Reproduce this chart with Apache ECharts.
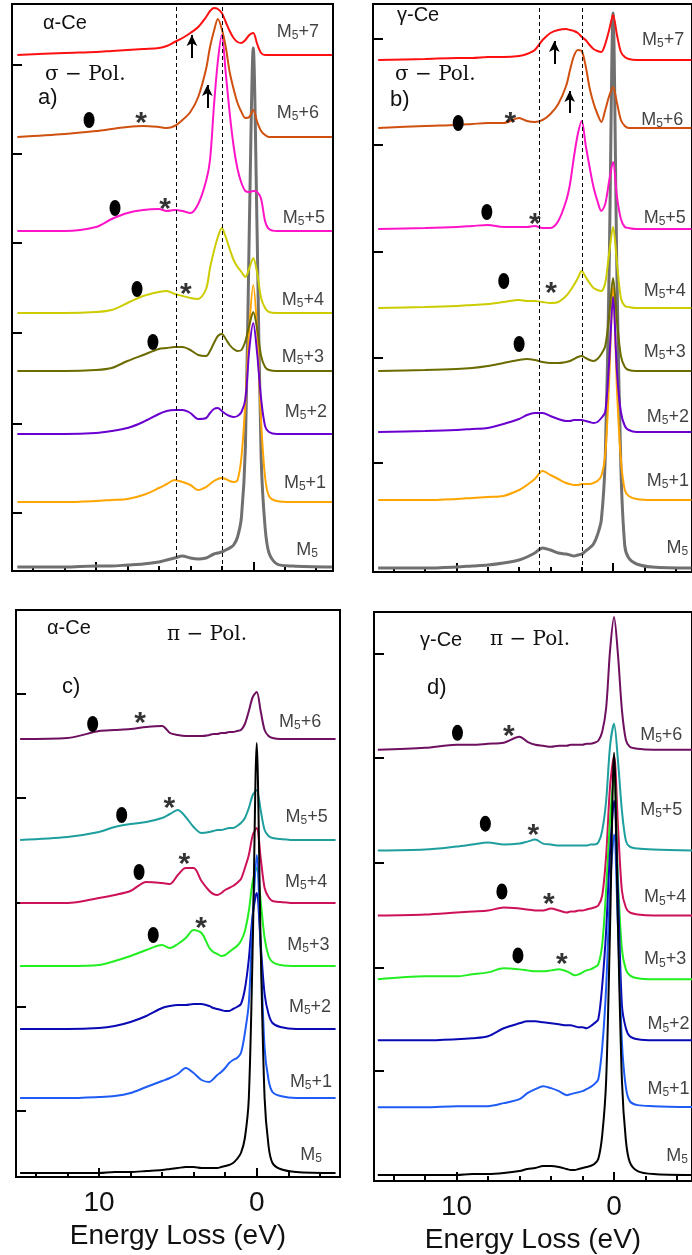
<!DOCTYPE html>
<html><head><meta charset="utf-8">
<script src="https://cdn.jsdelivr.net/npm/echarts@6/dist/echarts.min.js"></script>
<style>html,body{margin:0;padding:0;background:#fff}#c{width:692px;height:1255px}</style>
</head><body><div id="c"></div>
<script>
// shared energy-loss grid (eV) for every spectrum
const ENERGY = [15, 12, 10, 9, 8, 7, 6, 5.5, 5, 4.5, 4, 3.5, 3, 2.75, 2.5, 2.25, 2, 1.75, 1.5, 1.25, 1, 0.75, 0.5, 0.25, 0, -0.25, -0.5, -0.75, -1, -1.5, -2.5, -5];
const CURVE_SUFFIX = ['', '+1', '+2', '+3', '+4', '+5', '+6', '+7'];

// ---- panel a: alpha-Ce, sigma polarisation (intensity above each curve's own baseline, a.u.)
const A_OFFSETS = [4, 69, 137, 200, 258, 340, 434, 516];
const A_M5   = [0,0,1,1,2,3,5,7,9,11,9,8,9,11,13,14,15,17,19,22,30,50,120,340,519,330,110,40,14,3,1,0];
const A_M5P1 = [0,0,1,2,3,7,14,18,22,20,17,12,15,18,21,23,24,23,21,20,22,45,100,175,217,170,80,25,6,1,0,0];
const A_M5P2 = [0,0,1,3,6,12,20,23,24,24,21,15,16,21,25,26,23,20,18,17,18,22,35,85,111,80,35,8,2,0,0,0];
const A_M5P3 = [0,0,1,3,10,16,22,23,24,24,21,16,15,20,28,35,37,32,26,22,20,21,30,46,59,42,15,4,1,0,0,0];
const A_M5P4 = [0,0,1,3,10,17,21,22,19,17,15,14,24,45,62,76,85,76,64,53,46,41,36,45,55,40,15,5,1,0,0,0];
const A_M5P5 = [0,0,4,12,18,21,22,20,21,20,18,27,50,71,125,170,196,158,118,85,62,48,40,39,40,39,32,10,2,0,0,0];
const A_M5P6 = [0,3,6,8,10,11,10,9,11,17,25,40,68,90,106,118,108,90,65,48,34,25,19,20,27,15,6,2,0,0,0,0];
const A_M5P7 = [0,2,3,4,5,6,7,9,13,17,22,28,38,44,47,46,42,33,24,17,13,12,15,20,22,11,2,0,0,0,0,0];

// ---- panel b: gamma-Ce, sigma polarisation
const B_OFFSETS = [4, 72, 140, 201, 264, 343, 444, 512];
const B_M5   = [0,0,1,2,3,5,8,11,15,20,18,15,14,13,12,13,14,17,20,24,33,48,110,300,555,290,100,22,10,4,1,0];
const B_M5P1 = [0,0,1,2,3,4,10,15,21,29,25,21,17,16,15,15,16,16,16,17,19,24,45,120,213,110,40,10,4,1,0,0];
const B_M5P2 = [0,1,2,3,4,8,13,17,19,19,16,13,11,11,12,12,12,11,10,9,10,14,20,70,135,60,20,6,2,0,0,0];
const B_M5P3 = [0,1,2,3,5,8,11,12,11,9,8,8,9,10,12,14,15,13,11,10,12,17,25,55,93,50,15,4,1,0,0,0];
const B_M5P4 = [0,1,2,3,4,6,8,7,7,6,5,6,12,17,23,30,37,31,25,20,18,17,25,55,81,45,10,2,1,0,0,0];
const B_M5P5 = [0,1,2,3,4,2,2,2,3,1,1,8,28,45,72,95,108,84,62,42,28,18,25,48,67,32,10,2,1,0,0,0];
const B_M5P6 = [0,2,3,4,5,5,10,7,6,8,14,24,42,58,72,78,77,62,40,25,14,6,18,32,41,25,8,2,0,0,0,0];
const B_M5P7 = [0,1,2,2,3,3,4,6,10,20,27,30,31,30,29,27,23,20,15,11,9,8,16,30,45,25,8,3,1,0,0,0];

// ---- panel c: alpha-Ce, pi polarisation
const C_OFFSETS = [4, 79, 148, 211, 274, 337, 438];
const C_M5   = [0,0,0,1,1,2,3,4,5,6,6,5,5,5,5,6,7,8,10,14,20,35,75,230,430,230,75,27,10,4,1,0];
const C_M5P1 = [0,0,1,2,5,11,17,20,24,30,25,18,16,19,23,26,30,35,38,40,45,65,95,180,243,150,50,18,6,2,0,0];
const C_M5P2 = [0,0,1,3,7,13,21,23,24,24,25,25,23,21,20,19,18,18,20,22,25,40,70,115,136,85,35,15,6,2,0,0];
const C_M5P3 = [0,0,1,5,10,16,21,18,22,28,36,33,18,14,12,10,11,14,17,20,25,35,55,85,98,65,28,10,4,1,0,0];
const C_M5P4 = [0,0,5,8,12,21,20,19,28,35,35,22,12,9,8,10,13,15,17,20,24,35,48,68,75,45,15,6,2,1,0,0];
const C_M5P5 = [0,3,8,13,16,18,22,26,30,23,13,7,8,9,10,10,11,12,12,14,17,22,32,45,50,30,10,4,2,1,0,0];
const C_M5P6 = [0,1,8,9,10,12,13,6,4,3,3,3,4,5,5,6,6,7,7,8,9,15,28,42,47,28,9,3,1,0,0,0];

// ---- panel d: gamma-Ce, pi polarisation
const D_OFFSETS = [6, 74, 141, 202, 266, 331, 432];
const D_M5   = [0,0,0,1,1,2,4,6,7,9,9,8,6,5,5,6,7,8,9,11,16,40,95,250,423,250,95,35,13,4,1,0];
const D_M5P1 = [0,0,1,1,1,4,8,14,18,21,19,16,12,13,14,15,16,18,20,23,28,60,120,220,273,180,65,20,6,2,1,0];
const D_M5P2 = [0,0,1,2,4,12,17,19,19,18,17,16,15,15,14,13,13,12,14,17,21,55,110,190,240,150,35,12,4,1,0,0];
const D_M5P3 = [0,3,3,5,7,11,10,9,8,8,9,10,8,6,4,5,7,9,10,12,15,35,90,160,205,100,30,10,4,1,0,0];
const D_M5P4 = [0,1,3,4,5,8,7,6,5,5,7,5,3,4,4,5,5,6,7,8,10,20,60,130,160,90,25,8,3,1,0,0];
const D_M5P5 = [0,1,4,6,8,6,7,9,11,7,6,5,5,5,5,5,5,5,6,6,8,20,50,105,127,90,40,10,4,2,1,0];
const D_M5P6 = [0,2,5,5,6,7,13,8,5,4,3,4,4,5,5,5,5,6,6,7,9,18,42,100,133,95,40,10,3,1,0,0];

// y tick values (a.u.) and x tick values (eV)
const A_YTICKS = [58, 147, 238, 328, 417, 506];
const B_YTICKS = [109, 214, 320, 427, 533];
const C_YTICKS = [66, 170, 274, 379, 483];
const D_YTICKS = [110, 214, 319, 424, 528];
const X_MAJOR = [0, 10];
const X_MINOR = [-4, -2, 2, 4, 6, 8, 12, 14];

// dashed reference energies (eV)
const A_DASHED = [4.9, 2.0];
const B_DASHED = [4.7, 2.0];

// annotations [eV, a.u.]
const A_DOTS  = [[10.44,451],[8.79,363],[7.39,282],[6.38,229]];
const A_STARS = [[7.14,454],[5.61,368],[4.28,283]];
const A_ARROWS = [[3.9,513,536],[2.92,463,486]];
const B_DOTS  = [[9.89,449],[8.06,360],[6.98,291],[6.0,228]];
const B_STARS = [[6.56,455],[5.0,354],[3.96,285]];
const B_ARROWS = [[3.75,508,531],[2.77,459,481]];
const C_DOTS  = [[10.4,453],[8.56,362],[7.46,305],[6.56,242]];
const C_STARS = [[7.4,460],[5.54,375],[4.59,319],[3.53,255]];
const D_DOTS  = [[9.94,449],[8.17,358],[7.12,290],[6.1,226]];
const D_STARS = [[6.68,452],[5.13,353],[4.14,284],[3.31,224]];

// curve-name anchors [eV, a.u.]
const A_LABELS = [[-3.42,21],[-3.29,88],[-3.35,159],[-3.16,214],[-3.16,271],[-3.22,353],[-2.84,458],[-2.84,539]];
const B_LABELS = [[-4.1,24],[-3.5,91],[-3.5,155],[-3.3,220],[-3.3,281],[-3.3,354],[-3.14,452],[-3.2,532]];
const C_LABELS = [[-3.44,22],[-3.44,95],[-3.38,170],[-3.28,232],[-3.13,295],[-3.16,360],[-2.75,455]];
const D_LABELS = [[-4.0,25],[-3.46,92],[-3.46,157],[-3.24,222],[-3.24,284],[-3.0,372],[-3.0,447]];

const SIGMA_COLORS = ['#707070','#ffa500','#6a00d0','#6b6b00','#cccc00','#ff14c8','#d05010','#ff1010'];
const PI_COLORS = ['#000000','#1e5cf5','#0a0ab4','#22ee22','#cc1158','#1f9e9e','#6e0f60'];

const SANS = '"Liberation Sans", Arial, sans-serif';
const SERIF = '"DejaVu Serif", serif';

const PANELS = [
  {curves:[A_M5,A_M5P1,A_M5P2,A_M5P3,A_M5P4,A_M5P5,A_M5P6,A_M5P7], offsets:A_OFFSETS, colors:SIGMA_COLORS,
   yTicks:A_YTICKS, labels:A_LABELS, dots:A_DOTS, stars:A_STARS, arrows:A_ARROWS, dashed:A_DASHED,
   grid:{left:12, top:4, width:321, height:567}, xr:[-5.07,15.34], showX:false, order:[0,1,2,3,4,5,6,7]},
  {curves:[B_M5,B_M5P1,B_M5P2,B_M5P3,B_M5P4,B_M5P5,B_M5P6,B_M5P7], offsets:B_OFFSETS, colors:SIGMA_COLORS,
   yTicks:B_YTICKS, labels:B_LABELS, dots:B_DOTS, stars:B_STARS, arrows:B_ARROWS, dashed:B_DASHED,
   grid:{left:373, top:4, width:326, height:568}, xr:[-5.04,15.33], showX:false, order:[0,1,2,3,4,5,6,7]},
  {curves:[C_M5,C_M5P1,C_M5P2,C_M5P3,C_M5P4,C_M5P5,C_M5P6], offsets:C_OFFSETS, colors:PI_COLORS,
   yTicks:C_YTICKS, labels:C_LABELS, dots:C_DOTS, stars:C_STARS, arrows:[], dashed:[],
   grid:{left:16, top:610, width:324, height:567}, xr:[-5.28,15.26], showX:true, order:[6,5,4,3,2,1,0]},
  {curves:[D_M5,D_M5P1,D_M5P2,D_M5P3,D_M5P4,D_M5P5,D_M5P6], offsets:D_OFFSETS, colors:PI_COLORS,
   yTicks:D_YTICKS, labels:D_LABELS, dots:D_DOTS, stars:D_STARS, arrows:[], dashed:[],
   grid:{left:374, top:612, width:325, height:570}, xr:[-4.95,15.24], showX:true, order:[6,5,4,3,2,1,0]}
];

const grids = [], xAxes = [], yAxes = [], series = [];
PANELS.forEach((p, i) => {
  grids.push(Object.assign({show:true, borderColor:'#000', borderWidth:2, backgroundColor:'transparent'}, p.grid));
  xAxes.push({
    gridIndex:i, type:'value', position:'bottom', min:p.xr[0], max:p.xr[1], inverse:true,
    axisLine:{show:true, onZero:false, lineStyle:{color:'#000', width:2}},
    axisTick:{show:true, inside:true, length:9, customValues:X_MAJOR, lineStyle:{color:'#000', width:2}},
    axisLabel:{show:p.showX, customValues:X_MAJOR, fontSize:28, fontFamily:SANS, color:'#111', margin:12},
    splitLine:{show:false},
    name:p.showX ? 'Energy Loss (eV)' : '', nameLocation:'middle', nameGap:45,
    nameTextStyle:{fontSize:28, fontFamily:SANS, color:'#111'}
  });
  xAxes.push({
    gridIndex:i, type:'value', position:'bottom', min:p.xr[0], max:p.xr[1], inverse:true,
    axisLine:{show:false, onZero:false},
    axisTick:{show:true, inside:true, length:5, customValues:X_MINOR, lineStyle:{color:'#000', width:2}},
    axisLabel:{show:false}, splitLine:{show:false}
  });
  yAxes.push({
    gridIndex:i, type:'value', min:0, max:p.grid.height,
    axisLine:{show:true, onZero:false, lineStyle:{color:'#000', width:2}},
    axisTick:{show:true, inside:true, length:10, customValues:p.yTicks, lineStyle:{color:'#000', width:2}},
    axisLabel:{show:false}, splitLine:{show:false}
  });
  const xi = 2 * i;
  p.order.forEach((k, n) => {
    const vals = p.curves[k];
    series.push({
      type:'line', xAxisIndex:xi, yAxisIndex:i, silent:true, animation:false,
      symbol:'none', smooth:0.3, z:2 + n * 0.01,
      lineStyle:{color:p.colors[k], width:(i < 2 && k === 0) ? 3 : 2},
      data:ENERGY.map((e, j) => [e, p.offsets[k] + vals[j]])
    });
  });
  if (p.dashed.length) {
    series.push({
      type:'line', xAxisIndex:xi, yAxisIndex:i, data:[], silent:true, animation:false,
      markLine:{silent:true, symbol:'none', animation:false, label:{show:false},
        lineStyle:{color:'#000', width:1, type:[4,3]},
        data:p.dashed.map(v => ({xAxis:v}))}
    });
  }
  if (p.arrows.length) {
    series.push({
      type:'line', xAxisIndex:xi, yAxisIndex:i, data:[], silent:true, animation:false, z:6,
      markLine:{silent:true, animation:false, symbol:['none','arrow'], symbolSize:[8, 11],
        label:{show:false}, emphasis:{disabled:true},
        lineStyle:{color:'#000', width:2, type:'solid'},
        data:p.arrows.map(a => [{coord:[a[0], a[1]]}, {coord:[a[0], a[2]]}])}
    });
  }
  series.push({
    type:'scatter', xAxisIndex:xi, yAxisIndex:i, silent:true, animation:false, z:5,
    symbol:'circle', symbolSize:[11,16], itemStyle:{color:'#000', opacity:1}, data:p.dots
  });
  series.push({
    type:'scatter', xAxisIndex:xi, yAxisIndex:i, silent:true, animation:false, z:5,
    symbol:'circle', symbolSize:1, itemStyle:{color:'rgba(0,0,0,0)'}, data:p.stars,
    label:{show:true, position:'inside', formatter:'*', fontSize:30, fontWeight:'bold', fontFamily:SANS, color:'#000', offset:[0,7]}
  });
  series.push({
    type:'scatter', xAxisIndex:xi, yAxisIndex:i, silent:true, animation:false, z:5,
    symbol:'circle', symbolSize:1, itemStyle:{color:'rgba(0,0,0,0)'},
    data:p.labels.map((l, k) => ({value:l, name:CURVE_SUFFIX[k]})),
    label:{show:true, position:'inside', fontSize:18, fontFamily:SANS, color:'#111',
      formatter:(d) => 'M{s|5}' + d.name,
      rich:{s:{fontSize:12, fontFamily:SANS, color:'#111', verticalAlign:'bottom', padding:[8,0,0,0]}}}
  });
});

function txt(x, y, text, size, fam) {
  return {type:'text', x:x, y:y, silent:true, z:10,
    style:{text:text, fontSize:size, fontFamily:fam, fill:'#111', align:'left', verticalAlign:'middle'}};
}
const graphics = [
  txt(43, 23, 'α-Ce', 20, SANS), txt(45, 75, 'σ − Pol.', 20, SERIF), txt(38, 98, 'a)', 22, SANS),
  txt(397, 15, 'γ-Ce', 20, SANS), txt(395, 75, 'σ − Pol.', 20, SERIF), txt(390, 100, 'b)', 22, SANS),
  txt(47, 628, 'α-Ce', 20, SANS), txt(167, 635, 'π − Pol.', 20, SERIF), txt(62, 687, 'c)', 22, SANS),
  txt(420, 640, 'γ-Ce', 20, SANS), txt(490, 640, 'π − Pol.', 20, SERIF), txt(427, 688, 'd)', 22, SANS)
];

const chart = echarts.init(document.getElementById('c'), null, {renderer:'canvas'});
chart.setOption({
  backgroundColor:'#ffffff', animation:false,
  grid:grids, xAxis:xAxes, yAxis:yAxes, series:series, graphic:graphics
});
</script></body></html>
